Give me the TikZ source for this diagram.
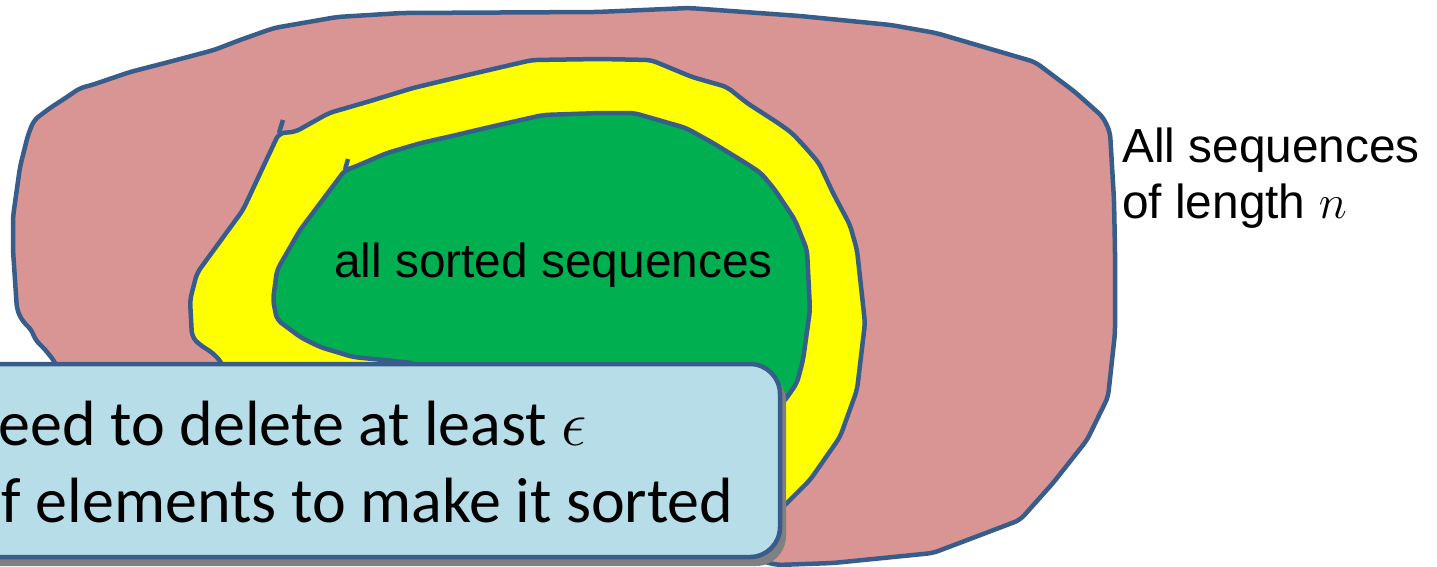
\RequirePackage{fix-cm}
\documentclass[tikz,border=0pt]{standalone}
\usepackage{fontspec}
\newfontfamily\arialf{Liberation Sans}
\newfontfamily\calibrif{Carlito}
\definecolor{outl}{RGB}{56,93,138}
\definecolor{pinkf}{RGB}{217,149,148}
\definecolor{yellowf}{RGB}{255,255,0}
\definecolor{greenf}{RGB}{0,176,80}
\definecolor{boxf}{RGB}{183,221,232}
\tikzset{
  blob/.style={draw=outl, line width=4.5pt, line join=round, rounded corners=6pt},
  tick/.style={draw=outl, line width=4.5pt},
  arialtxt/.style={inner sep=0pt, anchor=base west, font=\arialf\fontsize{47.8}{55}\selectfont},
  calltxt/.style={inner sep=0pt, anchor=base west, font=\calibrif\fontsize{64}{77}\selectfont},
}
\begin{document}
\begin{tikzpicture}[x=1pt,y=-1pt]
\useasboundingbox (0,0) rectangle (1437,566);
\clip (0,0) rectangle (1437,566);
% outer pink blob
\path[blob, fill=pinkf] (20,167) -- (28,135) -- (34,120) -- (50,108) -- (67,97) -- (80,88) -- (92,85)
  -- (130,72) -- (165,63) -- (214,50) -- (240,40) -- (274,28) -- (337,17) -- (402,13) -- (597,12)
  -- (689,8) -- (800,16) -- (891,25) -- (936,33) -- (1035,62) -- (1075,92) -- (1103,117) -- (1110,132)
  -- (1114,200) -- (1115,250) -- (1115,333) -- (1108,397) -- (1087,440) -- (1053,483) -- (1020,520)
  -- (933,553) -- (833,563) -- (777,565) -- (700,545) -- (80,420) -- (55,362) -- (43,347) -- (35,340)
  -- (32,330) -- (23,322) -- (17,310) -- (13,250) -- (13,217) -- cycle;
% yellow blob
\path[blob, fill=yellowf] (279,133) -- (295,132) -- (329,113) -- (367,102) -- (413,88) -- (459,77)
  -- (532,60) -- (600,59) -- (651,60) -- (692,77) -- (727,87) -- (747,103) -- (778,123) -- (792,133)
  -- (805,147) -- (819,163) -- (833,193) -- (850,225) -- (857,250) -- (865,323) -- (857,390)
  -- (840,437) -- (810,480) -- (783,507) -- (740,520) -- (240,420) -- (222,363) -- (213,353)
  -- (200,345) -- (192,337) -- (190,300) -- (197,273) -- (243,210) -- cycle;
\path[tick] (279,133) -- (283,120);
% green blob
\path[blob, fill=greenf] (345,170) -- (352,168) -- (387,153) -- (421,143) -- (452,136) -- (490,127)
  -- (543,115) -- (600,113) -- (634,113) -- (686,128) -- (713,143) -- (744,162) -- (761,173)
  -- (775,190) -- (795,220) -- (807,250) -- (810,310) -- (803,360) -- (797,383) -- (783,403)
  -- (700,430) -- (450,390) -- (413,363) -- (353,357) -- (320,347) -- (300,337) -- (287,327)
  -- (277,320) -- (273,300) -- (277,270) -- (300,230) -- cycle;
\path[tick] (345,170) -- (348,159);
\node[arialtxt] (sorted) at (334,277) {all sorted sequences};
% callout
\fill[black!50, rounded corners=30pt] (-40,371) rectangle (786,566);
\path[draw=outl, line width=4.5pt, fill=boxf, rounded corners=30pt] (-40,364) rectangle (780,557);
\node[calltxt] (l1) at (-35,445) {need to delete at least $\epsilon$};
\node[calltxt] (l2) at (-32,522) {of elements to make it sorted};
% right label
\node[arialtxt] (all1) at (1122,162) {All sequences};
\node[arialtxt] (all2) at (1122,218) {of length $n$};
\end{tikzpicture}
\end{document}
